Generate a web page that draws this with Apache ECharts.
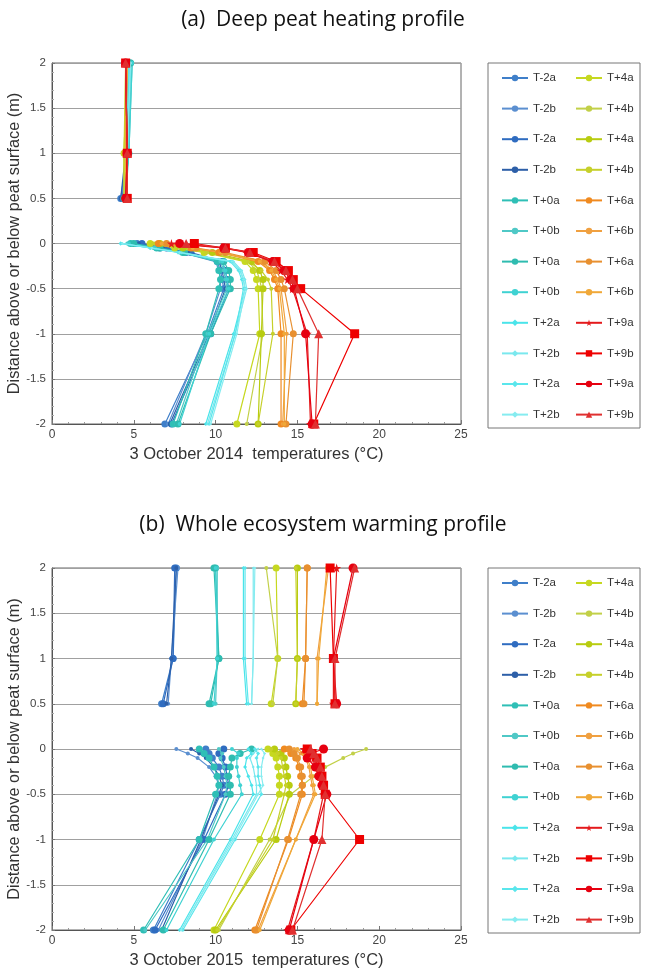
<!DOCTYPE html>
<html>
<head>
<meta charset="utf-8">
<script src="https://cdn.jsdelivr.net/npm/echarts@6/dist/echarts.min.js"></script>
<style>html,body{margin:0;padding:0;background:#fff}#c{width:646px;height:970px}</style>
</head>
<body>
<div id="c"></div>
<script>
// Heights (m) of the measurement levels
const airHeights = [2, 1, 0.5];
const soilDepths = [0, -0.05, -0.1, -0.2, -0.3, -0.4, -0.5, -1, -2];

// Legend labels (24 series per panel)
const seriesLabels = ['T-2a','T-2b','T-2a','T-2b','T+0a','T+0b','T+0a','T+0b','T+2a','T+2b','T+2a','T+2b',
                      'T+4a','T+4b','T+4a','T+4b','T+6a','T+6b','T+6a','T+6b','T+9a','T+9b','T+9a','T+9b'];

// Panel (a): 3 October 2014 – air temps (2,1,0.5 m)
const airA = [
 [4.6,4.6,4.2],[4.6,4.5,4.3],[4.7,4.6,4.3],[4.6,4.5,4.2],
 [4.8,4.7,4.4],[4.9,4.7,4.4],[4.8,4.6,4.4],[4.9,4.7,4.5],
 [4.7,4.6,4.4],[4.8,4.6,4.5],[4.7,4.5,4.4],[4.8,4.6,4.5],
 [4.5,4.4,4.5],[4.6,4.4,4.4],[4.5,4.5,4.5],[4.6,4.4,4.4],
 [4.5,4.5,4.5],[4.6,4.5,4.5],[4.5,4.6,4.5],[4.6,4.5,4.5],
 [4.5,4.6,4.5],[4.5,4.6,4.6],[4.5,4.6,4.5],[4.5,4.6,4.6]
];
// Panel (a): soil temps (0 ... -2 m)
const soilA = [
 [5.2,6.6,8.2,10.1,10.3,10.4,10.5,9.5,6.9],
 [5.0,6.3,7.9,10.0,10.2,10.3,10.3,9.4,7.1],
 [5.5,7.0,8.5,10.4,10.6,10.7,10.8,9.7,7.3],
 [5.3,6.8,8.3,10.2,10.4,10.5,10.6,9.6,7.2],
 [4.8,6.4,8.0,10.1,10.2,10.3,10.2,9.4,7.4],
 [4.6,6.2,7.8,10.3,10.5,10.6,10.7,9.5,7.6],
 [5.0,6.6,8.1,10.5,10.8,10.9,10.9,9.7,7.7],
 [4.7,6.3,7.9,10.4,10.6,10.7,10.8,9.6,7.8],
 [4.2,6.0,7.8,11.0,11.5,11.7,11.8,11.1,9.4],
 [4.3,6.1,7.9,11.1,11.6,11.8,11.9,11.2,9.5],
 [4.2,6.0,7.7,10.9,11.4,11.6,11.7,11.2,9.6],
 [4.3,6.1,7.8,11.0,11.5,11.7,11.8,11.3,9.7],
 [6.0,7.5,9.3,11.8,12.3,12.5,12.6,12.7,11.3],
 [6.3,7.8,9.5,12.0,12.5,12.7,12.8,12.9,11.9],
 [6.6,8.0,9.8,12.2,12.7,12.9,12.9,12.8,12.6],
 [6.2,7.6,9.4,12.0,12.8,13.2,13.4,13.5,12.6],
 [6.5,8.5,10.2,12.6,13.3,13.6,13.8,14.0,14.0],
 [6.8,8.7,10.4,12.8,13.5,13.8,14.0,14.35,14.1],
 [7.0,8.8,10.6,13.0,13.7,14.0,14.2,14.75,14.3],
 [6.7,8.6,10.3,12.7,13.4,13.7,13.9,14.2,14.2],
 [7.3,10.4,11.9,13.4,14.0,14.4,14.7,15.6,15.8],
 [8.7,10.6,12.3,13.7,14.45,14.75,15.2,18.5,16.0],
 [7.8,10.5,12.0,13.5,14.2,14.6,14.8,15.5,15.9],
 [8.2,10.6,12.1,13.6,14.3,14.7,15.0,16.3,16.1]
];

// Panel (b): 3 October 2015 – air temps (2,1,0.5 m)
const airB = [
 [7.6,7.4,6.7],[7.7,7.3,7.1],[7.5,7.4,6.8],[7.6,7.3,7.0],
 [10.0,10.2,9.6],[10.1,10.1,10.0],[9.9,10.2,9.7],[10.0,10.1,9.9],
 [11.7,11.7,11.9],[12.3,12.3,12.2],[11.8,11.8,12.0],[12.4,12.3,12.2],
 [13.7,13.8,13.4],[13.1,13.8,13.5],[15.0,15.0,14.9],[14.9,15.0,14.9],
 [15.6,15.5,15.3],[16.9,16.2,16.2],[15.6,15.5,15.4],[16.8,16.3,16.2],
 [17.4,17.2,17.2],[17.0,17.2,17.3],[18.4,17.2,17.4],[18.5,17.3,17.3]
];
// Panel (b): soil temps (0 ... -2 m)
const soilB = [
 [9.4,9.6,9.8,10.2,10.4,10.5,10.3,9.0,6.2],
 [7.6,8.3,8.9,9.6,10.0,10.2,10.1,9.2,6.5],
 [10.5,10.2,10.4,10.6,10.7,10.8,10.6,9.3,6.3],
 [8.5,9.0,9.4,9.9,10.2,10.4,10.2,9.1,6.7],
 [9.0,9.3,9.6,9.9,10.1,10.2,10.0,9.0,5.6],
 [10.2,10.4,10.3,10.5,10.6,10.7,10.6,9.5,5.7],
 [12.2,11.5,11.0,10.9,10.8,10.9,10.9,9.6,6.8],
 [11.0,11.4,11.3,11.3,11.4,11.5,11.6,9.9,7.0],
 [12.0,12.2,11.9,11.8,12.0,12.2,12.3,10.9,7.8],
 [12.6,12.3,12.1,12.3,12.4,12.5,12.5,11.0,7.9],
 [12.4,12.6,12.5,12.6,12.6,12.7,12.8,11.2,8.0],
 [12.8,13.0,12.9,12.8,12.8,12.9,12.6,11.1,7.9],
 [13.2,13.5,13.7,13.8,13.9,13.9,13.9,12.7,9.9],
 [19.2,18.4,17.8,16.7,16.0,15.3,14.6,13.3,10.2],
 [13.6,14.0,14.2,14.3,14.4,14.5,14.5,13.7,10.0],
 [13.4,13.8,14.0,14.1,14.2,14.3,14.2,13.5,10.1],
 [14.2,14.6,14.9,15.1,15.2,15.3,15.3,14.45,12.4],
 [14.8,15.2,15.5,15.7,15.8,15.9,16.0,14.9,12.6],
 [14.5,14.8,15.0,15.2,15.3,15.3,15.2,14.4,12.5],
 [15.0,15.4,15.6,15.8,15.9,16.0,16.1,14.9,12.7],
 [15.4,15.8,16.0,16.3,16.4,16.5,16.6,16.0,14.4],
 [15.6,15.9,16.2,16.4,16.5,16.6,16.7,18.8,14.6],
 [16.6,15.8,15.6,16.1,16.3,16.5,16.8,16.0,14.5],
 [15.8,16.0,16.2,16.4,16.5,16.6,16.7,16.5,14.7]
];

// styling
const colors = ['#3f7fc9','#5b8fd0','#2f6cc0','#2d5fa8',
                '#2fbfb6','#4fc8c6','#2fbcb0','#3fd2d2',
                '#4ae4ea','#7ae8ee','#5ae6ec','#86ecf0',
                '#c6d820','#c2d048','#b8cc10','#c6d02a',
                '#f08a20','#f0a040','#e89030','#f0a838',
                '#e41a1c','#ee0000','#e60010','#e03030'];
const symbols = ['circle','circle','circle','circle','circle','circle','circle','circle',
                 'diamond','diamond','diamond','diamond','circle','circle','circle','circle',
                 'circle','circle','circle','circle','star','rect','circle','triangle'];
const symSizes = [7,4,7,4,7,4,7,4,4,3,4,3,7,4,7,4,7,4,7,4,9,9,9,9];
const STAR = 'path://M50,0 L61,35 L98,35 L68,57 L79,91 L50,70 L21,91 L32,57 L2,35 L39,35 Z';

function buildSeries(prefix, air, soil, gi){
  const out = [];
  for (let i = 0; i < 24; i++){
    const data = [];
    airHeights.forEach((h, k) => data.push([air[i][k], h]));
    data.push(['-', '-']);
    soilDepths.forEach((d, k) => data.push([soil[i][k], d]));
    out.push({
      name: prefix + i,
      type: 'line',
      xAxisIndex: gi, yAxisIndex: gi,
      data: data,
      connectNulls: false,
      symbol: symbols[i] === 'star' ? STAR : symbols[i],
      symbolSize: symSizes[i],
      showSymbol: true,
      color: colors[i],
      lineStyle: {width: 1.2, color: colors[i]},
      itemStyle: {color: colors[i]},
      animation: false,
      z: 2 + Math.floor(i/4)
    });
  }
  return out;
}

const labelMap = {};
['a','b'].forEach(p => seriesLabels.forEach((l, i) => labelMap[p + i] = l));

function legendFor(prefix, col, top){
  const names = [];
  for (let i = 0; i < 12; i++) names.push(prefix + (col*12 + i));
  return {
    data: names,
    orient: 'vertical',
    left: col === 0 ? 496 : 570,
    top: top,
    itemWidth: 26,
    itemHeight: 8,
    itemGap: 18.6,
    selectedMode: false,
    formatter: n => labelMap[n],
    textStyle: {fontFamily: 'Liberation Sans', fontSize: 11.5, lineHeight: 12, color: '#333'}
  };
}

function axesFor(gi, xname){
  const x = {
    type: 'value', gridIndex: gi, min: 0, max: 25, interval: 5,
    name: xname, nameLocation: 'middle', nameGap: 22,
    nameTextStyle: {fontFamily: 'Liberation Sans', fontSize: 16.5, color: '#333'},
    axisLine: {show: true, onZero: false, lineStyle: {color: '#555'}},
    axisTick: {show: true, inside: true, length: 4, lineStyle: {color: '#777'}},
    minorTick: {show: true, splitNumber: 5, length: 2, lineStyle: {color: '#999'}},
    axisLabel: {fontFamily: 'Liberation Sans', fontSize: 12, color: '#444', margin: 5},
    splitLine: {show: false}
  };
  const y = {
    type: 'value', gridIndex: gi, min: -2, max: 2, interval: 0.5,
    name: 'Distance above or below peat surface (m)', nameLocation: 'middle', nameGap: 29,
    nameMoveOverlap: false,
    nameTextStyle: {fontFamily: 'Liberation Sans', fontSize: 16.3, color: '#333'},
    axisLine: {show: true, onZero: false, lineStyle: {color: '#555'}},
    axisTick: {show: true, inside: true, length: 3, lineStyle: {color: '#777'}},
    minorTick: {show: true, splitNumber: 5, length: 2, lineStyle: {color: '#aaa'}},
    axisLabel: {fontFamily: 'Liberation Sans', fontSize: 11.5, color: '#444', margin: 6},
    splitLine: {show: true, lineStyle: {color: '#a0a0a0', width: 1.2}}
  };
  return {x, y};
}

const ax0 = axesFor(0, '3 October 2014  temperatures (°C)');
const ax1 = axesFor(1, '3 October 2015  temperatures (°C)');

const option = {
  backgroundColor: '#fff',
  title: [
    {text: '(a)  Deep peat heating profile', left: 'center', top: 5,
     textStyle: {fontFamily: 'Open Sans', fontSize: 21, fontWeight: 'normal', color: '#111'}},
    {text: '(b)  Whole ecosystem warming profile', left: 'center', top: 510,
     textStyle: {fontFamily: 'Open Sans', fontSize: 21, fontWeight: 'normal', color: '#111'}}
  ],
  grid: [
    {left: 52, top: 63, width: 409, height: 361, show: true, borderColor: '#666', borderWidth: 1,
     containLabel: false, outerBoundsMode: 'none'},
    {left: 52, top: 568, width: 409, height: 362, show: true, borderColor: '#666', borderWidth: 1,
     containLabel: false, outerBoundsMode: 'none'}
  ],
  xAxis: [ax0.x, ax1.x],
  yAxis: [ax0.y, ax1.y],
  legend: [legendFor('a',0,67), legendFor('a',1,67), legendFor('b',0,572), legendFor('b',1,572)],
  graphic: [
    {type: 'rect', shape: {x: 488, y: 63, width: 152, height: 365}, style: {fill: 'none', stroke: '#777', lineWidth: 1}, silent: true},
    {type: 'rect', shape: {x: 488, y: 568, width: 152, height: 365}, style: {fill: 'none', stroke: '#777', lineWidth: 1}, silent: true}
  ],
  series: buildSeries('a', airA, soilA, 0).concat(buildSeries('b', airB, soilB, 1))
};

const chart = echarts.init(document.getElementById('c'), null, {renderer: 'canvas'});
chart.setOption(option);
</script>
</body>
</html>
